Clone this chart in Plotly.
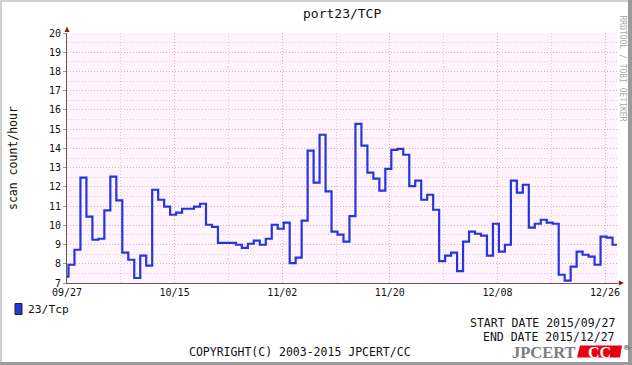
import pandas as pd
import plotly.graph_objects as go

# ---- data (daily mean scan count/hour, step per day) ----
series_name = "23/Tcp"
first_step = "2015-09-26 06:00"   # start time of the first (partially visible) step
values = [
    7.33, 7.95, 8.73, 12.48, 10.45, 9.25, 9.30, 10.78, 12.53, 11.30,
    8.58, 8.21, 7.26, 8.42, 7.90, 11.85, 11.33, 10.97, 10.55, 10.66,
    10.86, 10.86, 10.97, 11.12, 10.03, 9.92, 9.09, 9.09, 9.09, 8.99,
    8.83, 9.04, 9.20, 8.99, 9.30, 10.03, 9.82, 10.14, 8.03, 8.32,
    10.24, 13.88, 12.22, 14.71, 11.76, 9.67, 9.52, 9.15, 10.48, 15.27,
    14.14, 12.74, 12.43, 11.80, 12.93, 13.92, 13.97, 13.67, 12.04, 12.32,
    11.33, 11.59, 10.81, 8.14, 8.42, 8.58, 7.62, 9.15, 9.67, 9.56,
    9.46, 8.42, 10.08, 8.63, 8.99, 12.32, 11.70, 12.11, 9.88, 10.08,
    10.29, 10.14, 10.08, 7.43, 7.12, 7.85, 8.63, 8.47, 8.37, 7.95,
    9.41, 9.36, 8.99,
]
x_range = ["2015-09-27 00:00", "2015-12-28 00:00"]
major_ticks = ["2015-09-27", "2015-10-15", "2015-11-02", "2015-11-20", "2015-12-08", "2015-12-26"]
major_labels = ["09/27", "10/15", "11/02", "11/20", "12/08", "12/26"]
minor_ticks = ["2015-10-06", "2015-10-24", "2015-11-11", "2015-11-29", "2015-12-17"]
y_range = [7, 20]
title = "port23/TCP"
y_title = "scan count/hour"
start_text = "START DATE 2015/09/27"
end_text = "END DATE 2015/12/27"
copyright_text = "COPYRIGHT(C) 2003-2015 JPCERT/CC"
side_text = "RRDTOOL / TOBI OETIKER"

# step edges: each value holds for one day
times = pd.date_range(first_step, periods=len(values) + 1, freq="D")
ys = values + [values[-1]]

W, H = 632, 365
L, R, T, B = 67, 617, 33, 283
def px(x):
    return (x - L) / (R - L)
def py(y):
    return (B - y) / (B - T)

MONO = "DejaVu Sans Mono"
MAJ = "rgba(222,120,135,0.6)"
MIN = "rgba(205,160,190,0.5)"

fig = go.Figure()
fig.add_trace(go.Scatter(
    x=times, y=ys, mode="lines", line=dict(shape="hv", width=2.2, color="#2535e0"),
    name=series_name, showlegend=False, hoverinfo="skip",
))

fig.update_layout(
    width=W, height=H, autosize=False,
    margin=dict(l=L, r=W - R, t=T, b=H - B, pad=0),
    paper_bgcolor="white", plot_bgcolor="#fff3fd",
    font=dict(family=MONO, size=10, color="#111"),
    xaxis=dict(
        type="date", range=x_range, tickmode="array", tickvals=major_ticks, ticktext=major_labels,
        showgrid=True, gridcolor=MAJ, griddash="1px,2px", gridwidth=1,
        showline=True, linecolor="#6b5555", linewidth=1, ticks="", zeroline=False,
        tickfont=dict(family=MONO, size=10, color="#111"),
        minor=dict(tickvals=minor_ticks, showgrid=True, gridcolor=MIN, griddash="1px,2px", gridwidth=1),
        fixedrange=True,
    ),
    yaxis=dict(
        range=y_range, dtick=1, tick0=7,
        showgrid=True, gridcolor=MAJ, griddash="1px,2px", gridwidth=1,
        showline=True, linecolor="#6b5555", linewidth=1, ticks="outside", ticklen=3,
        tickcolor="#999", zeroline=False,
        tickfont=dict(family=MONO, size=10, color="#111"),
        minor=dict(dtick=0.5, showgrid=True, gridcolor=MIN, griddash="1px,2px", gridwidth=1),
        fixedrange=True,
    ),
)

shapes = []
# frame
shapes += [
    dict(type="rect", xref="paper", yref="paper", x0=px(0), x1=px(632), y0=py(0), y1=py(2),
         fillcolor="#cfcfcf", line=dict(width=0), layer="above"),
    dict(type="rect", xref="paper", yref="paper", x0=px(0), x1=px(2), y0=py(0), y1=py(365),
         fillcolor="#cfcfcf", line=dict(width=0), layer="above"),
    dict(type="rect", xref="paper", yref="paper", x0=px(628), x1=px(632), y0=py(0), y1=py(365),
         fillcolor="#9a9a9a", line=dict(width=0), layer="above"),
    dict(type="rect", xref="paper", yref="paper", x0=px(0), x1=px(632), y0=py(362), y1=py(365),
         fillcolor="#9a9a9a", line=dict(width=0), layer="above"),
]
# axis extension + arrows
shapes.append(dict(type="line", xref="paper", yref="paper", x0=px(617), x1=px(620), y0=0, y1=0,
                   line=dict(color="#6b5555", width=1)))
shapes.append(dict(type="path", xref="paper", yref="paper",
                   path=f"M {px(619)},{py(280.5)} L {px(624)},{py(283)} L {px(619)},{py(285.5)} Z",
                   fillcolor="#8b1a1a", line=dict(width=0)))
shapes.append(dict(type="path", xref="paper", yref="paper",
                   path=f"M {px(64.5)},{py(32)} L {px(67)},{py(26.5)} L {px(69.5)},{py(32)} Z",
                   fillcolor="#8b1a1a", line=dict(width=0)))
# legend swatch
shapes.append(dict(type="rect", xref="paper", yref="paper", x0=px(15), x1=px(22), y0=py(303.5), y1=py(314.5),
                   fillcolor="#2535e0", line=dict(color="#222", width=1)))
# logo red box (slanted)
shapes.append(dict(type="path", xref="paper", yref="paper",
                   path=f"M {px(580)},{py(345.5)} L {px(622)},{py(345.5)} L {px(620)},{py(357.5)} L {px(577)},{py(357.5)} Z",
                   fillcolor="#e60012", line=dict(width=0)))
fig.update_layout(shapes=shapes)

def ann(text, x, y, xanchor="center", yanchor="middle", size=11.5, color="#111", family=MONO, angle=0, **kw):
    return dict(text=text, x=px(x), y=py(y), xref="paper", yref="paper", showarrow=False,
                xanchor=xanchor, yanchor=yanchor, textangle=angle,
                font=dict(family=family, size=size, color=color), **kw)

anns = [
    ann(title, 342, 14, size=13),
    ann(y_title, 13, 158, size=11.5, angle=-90),
    ann(side_text, 622.5, 68, size=8, color="#aaaaaa", angle=90),
    ann(series_name, 26, 309.5, xanchor="left", size=11.3),
    ann(start_text, 617, 323, xanchor="right", size=11.5),
    ann(end_text, 617, 337, xanchor="right", size=11.5),
    ann(copyright_text, 300, 351.5, size=11.5),
    ann("<b>JPCERT</b>", 578, 352, xanchor="right", size=16.5, color="#7d7d7d", family="Liberation Serif"),
    ann("<b>CC</b>", 599.5, 352, size=16, color="white", family="Liberation Serif"),
    ann("®", 626, 348, size=7, color="#333", family="DejaVu Sans"),
]
fig.update_layout(annotations=anns)

fig.write_html("out.html", include_plotlyjs=True, config={"displayModeBar": False})
